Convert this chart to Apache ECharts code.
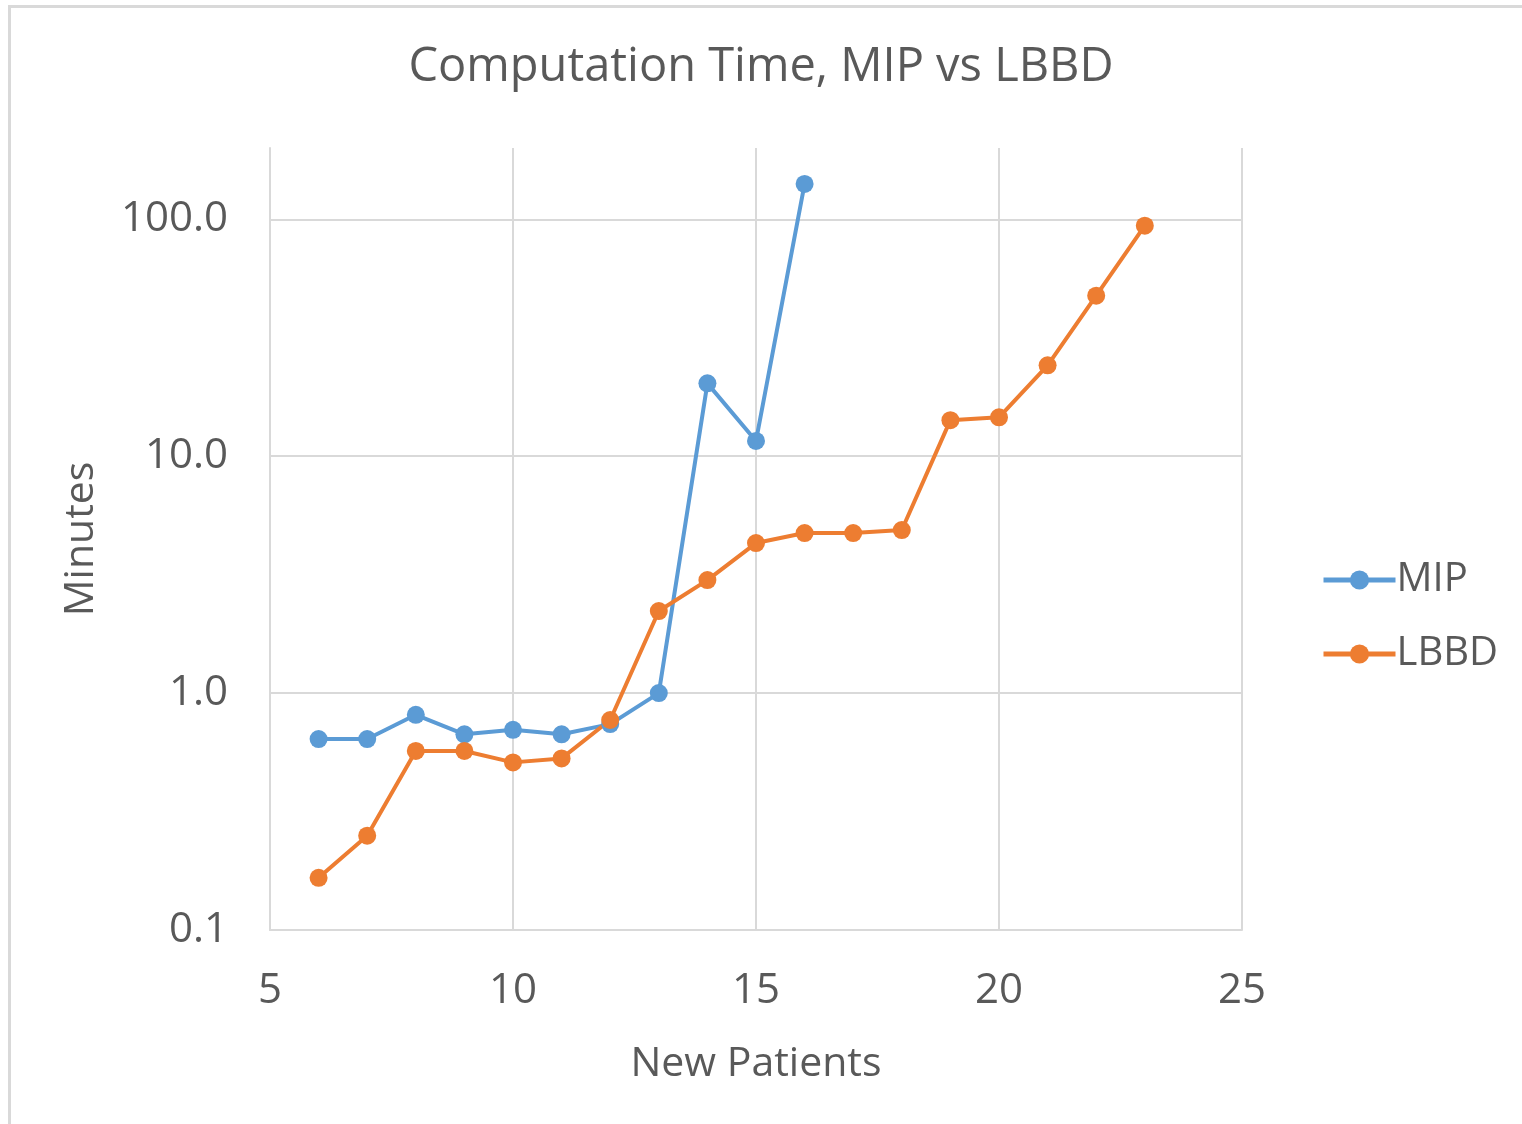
<!DOCTYPE html>
<html>
<head>
<meta charset="utf-8">
<script src="https://cdn.jsdelivr.net/npm/echarts@6/dist/echarts.min.js"></script>
<style>
  html, body { margin: 0; padding: 0; background: #fff; }
  #chart-panel { position: absolute; left: 0; top: 0; width: 1522px; height: 1124px; }
  #frame { position: absolute; left: 8px; top: 5px; width: 1520px; height: 1130px;
           border-left: 3px solid #d9d9d9; border-top: 3px solid #d9d9d9; pointer-events: none; }
</style>
</head>
<body>
<div id="chart-panel"></div>
<div id="frame"></div>
<script>
var patients = [6, 7, 8, 9, 10, 11, 12, 13, 14, 15, 16, 17, 18, 19, 20, 21, 22, 23];
var mipMinutes = [0.64, 0.64, 0.81, 0.67, 0.70, 0.67, 0.74, 1.0, 20.3, 11.6, 141];
var lbbdMinutes = [0.166, 0.25, 0.57, 0.57, 0.51, 0.53, 0.77, 2.22, 3.0, 4.3, 4.74, 4.74, 4.88, 14.2, 14.6, 24.2, 47.6, 94];

function pairs(values) {
    var out = [];
    for (var i = 0; i < values.length; i++) {
        out.push([patients[i], values[i]]);
    }
    return out;
}

var font = 'Open Sans';
var textColor = '#595959';

var option = {
    animation: false,
    title: {
        text: 'Computation Time, MIP vs LBBD',
        left: 'center',
        top: 39,
        textStyle: { fontFamily: font, fontSize: 47, fontWeight: 'normal', color: textColor }
    },
    legend: {
        orient: 'vertical',
        left: 1316,
        top: 555,
        itemWidth: 72,
        itemHeight: 24,
        itemGap: 34,
        lineStyle: { width: 5 },
        textStyle: { fontFamily: font, fontSize: 40, color: textColor, padding: [0, 0, 0, -4] },
        data: ['MIP', 'LBBD']
    },
    grid: { left: 270, right: 280, top: 148, bottom: 194 },
    xAxis: {
        type: 'value',
        name: 'New Patients',
        nameLocation: 'middle',
        nameGap: 114,
        nameTextStyle: { fontFamily: font, fontSize: 41, color: textColor },
        min: 5,
        max: 25,
        interval: 5,
        axisLine: { lineStyle: { color: '#d9d9d9', width: 2 } },
        axisTick: { show: false },
        axisLabel: { fontFamily: font, fontSize: 42, color: textColor, margin: 40 },
        splitLine: { lineStyle: { color: '#d9d9d9', width: 2 } }
    },
    yAxis: {
        type: 'log',
        logBase: 10,
        name: 'Minutes',
        nameLocation: 'middle',
        nameGap: 168,
        nameTextStyle: { fontFamily: font, fontSize: 41, color: textColor },
        min: 0.1,
        max: 200,
        axisLine: { show: true, lineStyle: { color: '#d9d9d9', width: 2 } },
        axisTick: { show: false },
        axisLabel: {
            fontFamily: font, fontSize: 42, color: textColor, margin: 42,
            showMaxLabel: false,
            formatter: function (v) { return Number(v).toFixed(1); }
        },
        splitLine: { showMaxLine: false, lineStyle: { color: '#d9d9d9', width: 2 } }
    },
    series: [{
        name: 'MIP',
        type: 'line',
        data: pairs(mipMinutes),
        symbol: 'circle',
        symbolSize: 18,
        color: '#5b9bd5',
        lineStyle: { width: 4 }
    }, {
        name: 'LBBD',
        type: 'line',
        data: pairs(lbbdMinutes),
        symbol: 'circle',
        symbolSize: 18,
        color: '#ed7d31',
        lineStyle: { width: 4 }
    }]
};

var myChart = echarts.init(document.getElementById('chart-panel'));
myChart.setOption(option);
</script>
</body>
</html>
